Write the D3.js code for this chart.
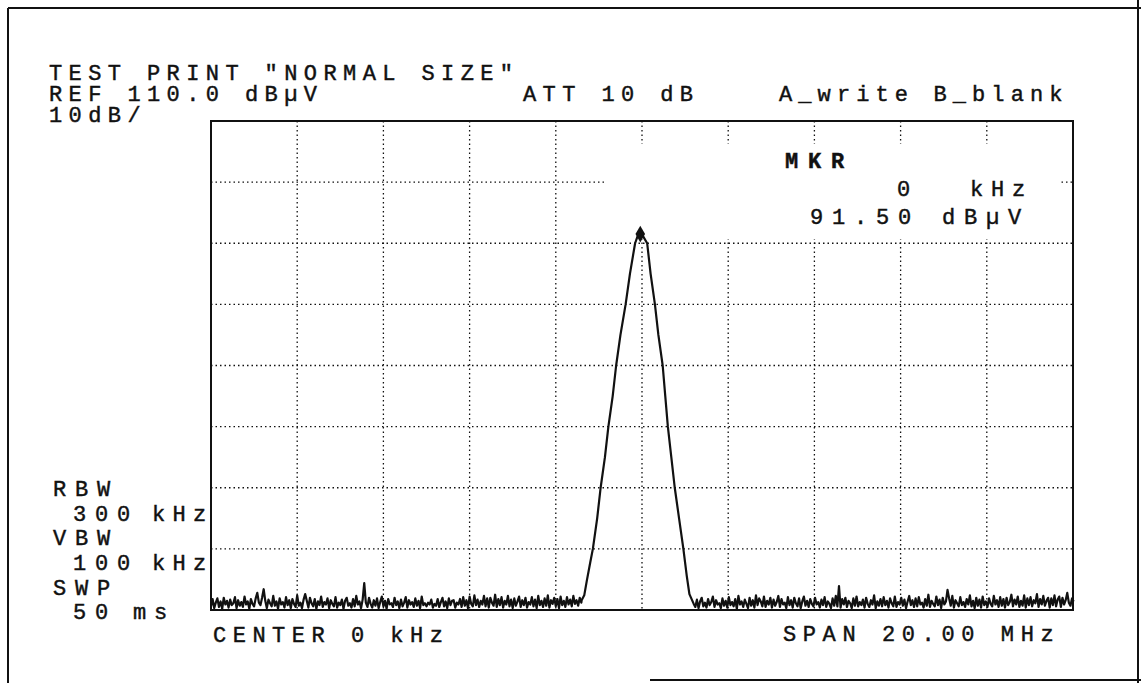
<!DOCTYPE html>
<html>
<head>
<meta charset="utf-8">
<script src="https://cdn.jsdelivr.net/npm/d3@7"></script>
<style>
  html, body { margin: 0; padding: 0; background: #fff; }
  svg { display: block; }
  text { font-family: "Liberation Mono", "DejaVu Sans Mono", monospace; fill: #111; stroke: #111; stroke-width: 0.45; }
</style>
</head>
<body>
<svg id="chart" width="1141" height="683"></svg>
<script>
// ---- Data ----
const refLevel = 110;           // dBµV, top of screen
const bottomLevel = 30;         // dBµV, bottom of screen (10 dB/div, 8 div)
const spanStart = -10;          // MHz (centre 0 kHz, span 20 MHz)
const spanStop = 10;            // MHz
const xGridMHz = [-8, -6, -4, -2, 0, 2, 4, 6, 8];
const yGridDb = [40, 50, 60, 70, 80, 90, 100];

// sweep point spacing of the trace (MHz)
const sweepStep = 20 / 540;

// noise floor left of the carrier, sweep points from -10 MHz
const noiseLeftStart = -10.0;
const noiseLeft = [
  30.6,31.8,30.3,31.2,31.9,30.5,31.4,30.2,32.0,30.9,
  31.5,30.4,31.7,30.8,31.1,32.1,30.3,31.6,30.7,31.3,
  30.5,32.2,30.9,31.4,30.2,31.8,31.0,30.6,31.9,32.8,
  31.2,30.8,32.0,33.4,31.5,30.3,31.7,31.1,30.6,32.3,
  30.7,31.4,30.2,31.9,30.9,31.3,30.4,32.1,30.8,31.6,
  30.3,31.8,31.0,30.5,32.4,30.7,31.2,30.3,31.7,32.6,
  31.5,30.4,32.0,31.1,30.6,31.8,30.2,31.4,30.8,32.2,
  30.5,31.3,30.9,31.9,30.3,31.6,31.0,30.6,32.1,30.4,
  31.2,30.8,31.7,30.2,31.5,32.0,30.7,31.1,30.4,31.8,
  30.6,32.3,30.9,31.4,30.3,31.7,34.4,31.2,30.5,32.0,
  31.0,30.4,31.6,30.7,31.9,30.3,31.3,32.2,30.6,31.5,
  30.2,31.8,30.9,31.1,30.5,32.0,30.8,31.4,30.3,31.7,
  30.6,31.2,32.1,30.4,31.6,30.9,31.3,30.5,31.9,30.7,
  31.5,30.3,32.2,30.8,31.1,30.6,31.2,30.9,31.7,30.4,
  31.0,30.7,31.8,30.5,31.3,32.0,30.6,31.4,30.3,31.9,
  30.8,31.5,31.6,30.4,31.2,30.9,31.8,30.5,32.1,30.7,
  31.6,30.3,32.2,31.0,30.6,32.4,30.8,31.7,30.5,31.5,
  30.9,32.3,30.6,31.9,30.4,32.0,31.2,30.7,32.5,30.5,
  31.8,30.8,32.1,30.4,31.5,30.9,32.3,30.6,31.7,30.3,
  31.9,30.7,31.4,32.2,30.5,31.6,30.8,32.0,30.4,31.3,
  30.9,32.1,30.6,31.7,30.3,32.3,30.8,31.5,30.5,31.9,
  30.7,32.4,30.4,31.6,31.0,32.0,30.6,31.8,30.3,32.2,
  30.8,31.5,30.5,32.1,30.9,31.7,30.6,32.3,31.0,31.6,
  30.7,32.0,31.2
];

// carrier response (MHz, dBµV)
const peakFreqs  = [-1.40,-1.34,-1.28,-1.20,-1.14,-1.04,-0.96,-0.86,-0.78,-0.68,-0.60,-0.50,-0.38,-0.28,-0.16,-0.10,-0.04,0.02,0.12,0.20,0.30,0.38,0.48,0.54,0.60,0.68,0.76,0.86,0.96,1.04,1.10];
const peakLevels = [31.6,32.4,34.8,37.8,40.0,45.0,50.0,55.0,60.0,65.0,70.0,75.0,80.0,85.0,90.0,91.2,91.5,91.2,90.0,85.0,80.0,75.0,70.0,65.0,60.0,55.0,50.0,45.0,40.0,35.5,32.6];

// noise floor right of the carrier, sweep points from 1.20 MHz
const noiseRightStart = 1.20;
const noiseRight = [
  31.0,30.5,31.7,30.3,31.4,32.0,30.6,31.2,30.4,31.8,
  30.8,31.3,32.2,30.5,31.6,30.9,31.1,30.3,31.9,30.7,
  31.5,30.4,32.1,30.8,31.3,30.6,31.8,30.2,32.3,30.9,
  31.4,30.5,31.7,31.0,30.3,32.0,30.7,31.6,30.4,32.4,
  30.8,31.9,31.4,30.6,32.2,30.5,31.5,30.9,32.0,30.4,
  31.7,30.7,31.3,32.3,30.5,31.8,30.9,31.2,30.3,32.1,
  30.8,31.6,30.4,32.0,31.1,30.6,31.9,30.3,31.4,32.2,
  30.7,31.5,30.5,31.8,31.0,30.6,32.0,30.9,31.3,30.4,
  31.7,30.8,32.1,30.5,31.4,31.0,30.3,31.9,30.7,32.3,
  30.6,33.9,30.4,31.8,30.9,32.0,30.5,31.5,31.1,30.3,
  31.9,30.7,32.2,30.6,31.3,30.8,31.7,30.4,32.0,31.0,
  30.5,31.6,30.9,32.4,30.3,31.4,30.7,31.8,30.6,32.1,
  30.8,31.5,30.4,31.9,31.1,30.6,32.2,30.5,31.3,30.9,
  32.0,30.7,31.7,30.3,31.4,32.3,30.8,31.6,30.5,31.9,
  30.6,32.1,30.9,31.2,30.4,31.8,30.7,32.5,30.5,31.5,
  31.0,30.6,32.2,30.8,31.7,30.3,32.0,30.9,31.4,33.3,
  31.9,30.7,32.3,30.4,31.6,31.1,30.6,32.1,30.8,31.3,
  30.5,31.8,30.9,32.4,30.6,31.5,30.3,32.0,30.7,31.7,
  30.4,32.2,30.8,31.4,30.5,31.9,31.0,30.6,32.3,30.9,
  31.6,30.5,32.1,30.7,31.8,30.4,32.0,30.8,31.3,32.5,
  30.6,31.7,30.9,32.2,30.5,31.5,30.7,32.4,30.4,31.9,
  30.8,32.1,30.6,31.6,31.1,32.6,30.5,31.8,30.9,32.3,
  30.7,31.5,32.0,30.4,31.9,30.8,32.4,30.6,31.7,32.2,
  30.5,32.0,30.9,31.6,32.8,31.2,30.7,31.9,31.4
];

const marker = { freq: -0.04, level: 91.5 };

// ---- Drawing ----
const svg = d3.select("#chart");
const plot = { left: 211, right: 1073, top: 121, bottom: 610 };

const x = d3.scaleLinear().domain([spanStart, spanStop]).range([plot.left, plot.right]);
const y = d3.scaleLinear().domain([bottomLevel, refLevel]).range([plot.bottom, plot.top]);

// outer page frame
const frame = svg.append("g").attr("stroke", "#111").attr("stroke-width", 2).attr("fill", "none");
frame.append("line").attr("x1", 8).attr("y1", 8).attr("x2", 8).attr("y2", 683);
frame.append("line").attr("x1", 8).attr("y1", 8).attr("x2", 1141).attr("y2", 8);
frame.append("line").attr("x1", 1138).attr("y1", 0).attr("x2", 1138).attr("y2", 683);
frame.append("line").attr("x1", 650).attr("y1", 680).attr("x2", 1141).attr("y2", 680);

// grid
const grid = svg.append("g").attr("stroke", "#111").attr("stroke-width", 1.3).attr("stroke-dasharray", "1.5,3");
grid.selectAll("line.v").data(xGridMHz).join("line").attr("class", "v")
  .attr("x1", d => x(d)).attr("x2", d => x(d))
  .attr("y1", plot.top).attr("y2", plot.bottom);
grid.selectAll("line.h").data(yGridDb).join("line").attr("class", "h")
  .attr("y1", d => y(d)).attr("y2", d => y(d))
  .attr("x1", plot.left).attr("x2", plot.right);

// blank field behind marker readout
svg.append("rect").attr("x", 607).attr("y", 144).attr("width", 452).attr("height", 95).attr("fill", "#fff");

// trace
const trace = [];
noiseLeft.forEach((v, i) => trace.push([noiseLeftStart + i * sweepStep, v]));
peakFreqs.forEach((f, i) => trace.push([f, peakLevels[i]]));
noiseRight.forEach((v, i) => trace.push([noiseRightStart + i * sweepStep, v]));

const line = d3.line().x(d => x(d[0])).y(d => y(d[1]));
svg.append("path").datum(trace).attr("d", line)
  .attr("fill", "none").attr("stroke", "#111").attr("stroke-width", 2.2).attr("stroke-linejoin", "round");

// plot border
svg.append("rect").attr("x", plot.left).attr("y", plot.top)
  .attr("width", plot.right - plot.left).attr("height", plot.bottom - plot.top)
  .attr("fill", "none").attr("stroke", "#111").attr("stroke-width", 2);

// marker
svg.append("path").attr("d", d3.symbol(d3.symbolDiamond, 80)())
  .attr("transform", `translate(${x(marker.freq)},${y(marker.level)})`).attr("fill", "#111");

// text helper: monospace with printer-like pitch
function label(str, px, py, pitch, size = 22, weight = "normal") {
  svg.append("text").attr("x", px).attr("y", py)
    .attr("font-size", size).attr("font-weight", weight)
    .attr("letter-spacing", (pitch - 0.6 * size).toFixed(2))
    .attr("xml:space", "preserve").style("white-space", "pre")
    .text(str);
}

label('TEST PRINT "NORMAL SIZE"', 49, 80, 19.6);
label("REF 110.0 dBµV", 49, 101, 19.6);
label("10dB/", 49, 122, 19.6);
label("ATT 10 dB", 523, 101, 19.6);
label("A_write B_blank", 779, 101, 19.3);

label("MKR", 785, 168, 23, 22, "bold");
label("0", 897, 196, 21);
label("kHz", 970, 196, 21);
label("91.50 dBµV", 810, 224, 22);

label("RBW", 53, 496, 22);
label("300", 73, 521, 22);
label("kHz", 152, 521, 20.5);
label("VBW", 53, 545, 22);
label("100", 73, 570, 22);
label("kHz", 152, 570, 20.5);
label("SWP", 53, 595, 22);
label("50", 73, 619, 22);
label("ms", 133, 619, 21);

label("CENTER 0 kHz", 213, 642, 19.7);
label("SPAN 20.00 MHz", 783, 641, 19.8);
</script>
</body>
</html>
